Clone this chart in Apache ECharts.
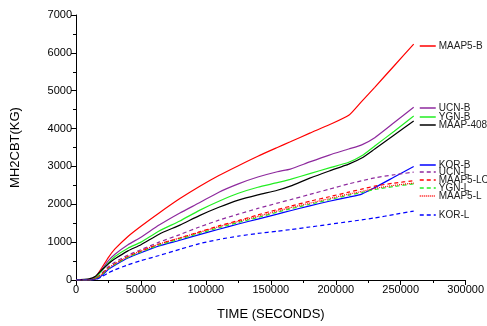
<!DOCTYPE html>
<html>
<head>
<meta charset="utf-8">
<script src="https://cdn.jsdelivr.net/npm/echarts@6/dist/echarts.min.js"></script>
<style>
html, body { margin: 0; padding: 0; background: #fff; }
#chart { width: 487px; height: 326px; }
</style>
</head>
<body>
<div id="chart"></div>
<script>
var times = [0, 10000, 15000, 20000, 25000, 30000, 40000, 50000, 64000, 80000, 95000, 110000, 125000, 140000, 155000, 165000, 180000, 195000, 210000, 220000, 230000, 245000, 260000];

var maap5B  = [0, 0, 80, 330, 600, 820, 1150, 1420, 1770, 2150, 2470, 2760, 3020, 3270, 3500, 3650, 3880, 4100, 4350, 4720, 5090, 5660, 6230];
var ucnB    = [0, 0, 60, 280, 510, 680, 930, 1130, 1450, 1770, 2040, 2320, 2540, 2720, 2860, 2930, 3120, 3300, 3460, 3570, 3760, 4160, 4563];
var ygnB    = [0, 0, 50, 250, 450, 620, 840, 1000, 1296, 1560, 1840, 2080, 2290, 2450, 2570, 2660, 2810, 2960, 3110, 3280, 3540, 3930, 4330];
var maap408 = [0, 30, 100, 270, 430, 560, 770, 930, 1210, 1450, 1700, 1920, 2110, 2250, 2370, 2480, 2690, 2880, 3060, 3220, 3460, 3830, 4200];
var korB    = [0, 0, 20, 120, 280, 390, 580, 720, 900, 1050, 1200, 1340, 1480, 1610, 1740, 1830, 1960, 2080, 2190, 2270, 2440, 2720, 3000];
var ucnL    = [0, 0, 40, 180, 360, 470, 660, 800, 1000, 1200, 1400, 1580, 1740, 1890, 2030, 2120, 2260, 2400, 2540, 2620, 2700, 2780, 2850];
var maap5LC = [0, 0, 30, 150, 320, 430, 620, 760, 950, 1110, 1270, 1430, 1570, 1720, 1860, 1950, 2080, 2200, 2320, 2400, 2480, 2560, 2620];
var ygnL    = [0, 0, 30, 140, 300, 410, 600, 740, 920, 1080, 1230, 1380, 1520, 1650, 1790, 1880, 2000, 2120, 2240, 2310, 2390, 2470, 2540];
var maap5L  = [0, 0, 35, 160, 320, 430, 620, 770, 950, 1110, 1260, 1410, 1550, 1680, 1820, 1910, 2030, 2150, 2270, 2340, 2420, 2500, 2560];
var korL    = [0, 0, 10, 90, 190, 270, 400, 510, 648, 810, 960, 1070, 1160, 1230, 1290, 1330, 1400, 1470, 1540, 1590, 1640, 1730, 1820];

var xTicks = { min: 0, max: 300000, interval: 50000 };
var yTicks = { min: 0, max: 7000, interval: 1000 };

function pairs(vals) {
    var out = [];
    for (var i = 0; i < times.length; i++) {
        out.push([times[i], vals[i]]);
    }
    return out;
}

// name, data, color, line type, legend top
var lines = [
    ['MAAP5-B', maap5B, '#ff0000', 'solid', 41],
    ['UCN-B', ucnB, '#8e2a9e', 'solid', 103],
    ['YGN-B', ygnB, '#22ee22', 'solid', 112],
    ['MAAP-408', maap408, '#000000', 'solid', 120],
    ['KOR-B', korB, '#0000ff', 'solid', 160],
    ['UCN-L', ucnL, '#8e2a9e', [4, 3], 167],
    ['MAAP5-LC', maap5LC, '#ff0000', [4, 3], 175],
    ['YGN-L', ygnL, '#22ee22', [4, 3], 183],
    ['MAAP5-L', maap5L, '#ff0000', [1, 1], 191],
    ['KOR-L', korL, '#0000ff', [4, 3], 210]
];

var series = [];
var legends = [];
lines.forEach(function (l) {
    series.push({
        name: l[0],
        type: 'line',
        data: pairs(l[1]),
        symbol: 'none',
        smooth: 0.2,
        color: l[2],
        lineStyle: { color: l[2], width: 1.2, type: l[3] }
    });
    legends.push({
        data: [l[0]],
        left: 419,
        top: l[4],
        padding: 0,
        itemWidth: 16,
        itemHeight: 10,
        itemGap: 0,
        selectedMode: false,
        itemStyle: { opacity: 0 },
        lineStyle: { width: 1.5 },
        textStyle: { fontFamily: 'Liberation Sans', fontSize: 10, color: '#222', padding: [0, 0, 0, -2] }
    });
});

echarts.init(document.getElementById('chart')).setOption({
    animation: false,
    backgroundColor: '#fff',
    textStyle: { fontFamily: 'Liberation Sans' },
    legend: legends,
    grid: { left: 76, right: 18, top: 15, bottom: 41 },
    xAxis: {
        type: 'value',
        min: xTicks.min,
        max: xTicks.max,
        interval: xTicks.interval,
        name: 'TIME (SECONDS)',
        nameLocation: 'middle',
        nameGap: 28,
        nameTextStyle: { fontSize: 13, color: '#000' },
        axisLine: { lineStyle: { color: '#000', width: 1 } },
        axisTick: { inside: false, length: 5, lineStyle: { color: '#000' } },
        minorTick: { show: true, splitNumber: 2, length: 3, lineStyle: { color: '#000' } },
        axisLabel: { fontSize: 11, color: '#000', margin: 4, formatter: function (v) { return String(v); } },
        splitLine: { show: false }
    },
    yAxis: {
        type: 'value',
        min: yTicks.min,
        max: yTicks.max,
        interval: yTicks.interval,
        name: 'MH2CBT(KG)',
        nameLocation: 'middle',
        nameGap: 54,
        nameTextStyle: { fontSize: 13, color: '#000' },
        axisLine: { show: true, lineStyle: { color: '#000', width: 1 } },
        axisTick: { show: true, inside: false, length: 5, lineStyle: { color: '#000' } },
        minorTick: { show: true, splitNumber: 2, length: 3, lineStyle: { color: '#000' } },
        axisLabel: { fontSize: 11, color: '#000', margin: 4, formatter: function (v) { return String(v); } },
        splitLine: { show: false }
    },
    series: series
});
</script>
</body>
</html>
